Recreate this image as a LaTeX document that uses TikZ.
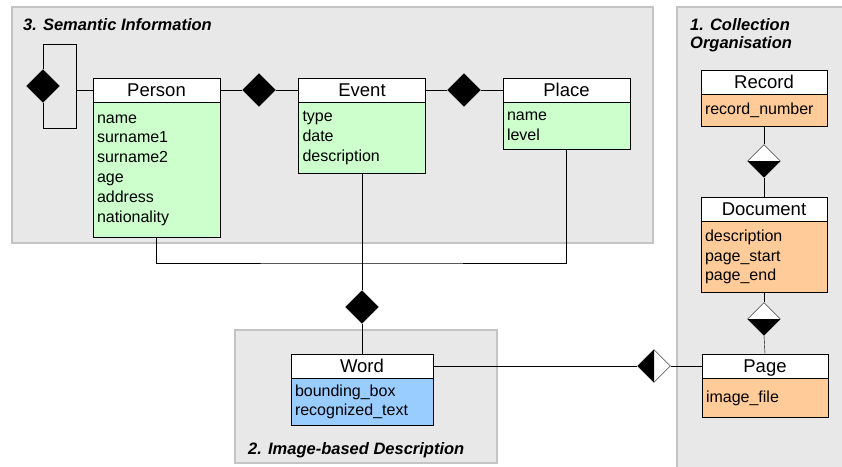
\documentclass[tikz,border=0pt]{standalone}
\usepackage{fontspec}
\setmainfont{Liberation Sans}
\usetikzlibrary{shapes.geometric}

\definecolor{semgreen}{HTML}{CCFFCC}
\definecolor{colorange}{HTML}{FFCC99}
\definecolor{imgblue}{HTML}{99CCFF}
\definecolor{panelfill}{HTML}{E8E8E8}
\definecolor{panelline}{HTML}{C4C4C4}

\newcommand\hdfont{\fontsize{18.5}{22}\selectfont}
\newcommand\atfont{\fontsize{16}{19.8}\selectfont}
\newcommand\ttlfont{\fontsize{16.5}{18}\selectfont\bfseries\itshape}

\begin{document}
\begin{tikzpicture}[x=1pt, y=-1pt,
  panel/.style={draw=panelline, fill=panelfill, line width=2.5},
  header/.style={draw, fill=white, minimum width=127, minimum height=24,
    inner sep=0, text height=13.3, text depth=0, font=\hdfont},
  attrs/.style={draw, fill=#1, anchor=north, minimum width=127, text width=119,
    inner xsep=4, inner ysep=0, align=left, font=\atfont},
  rel/.style={diamond, draw, fill=black, minimum width=33, minimum height=33, inner sep=0},
  halfdown/.style={rel, fill=white, path picture={
    \fill[black] (path picture bounding box.west) -- (path picture bounding box.east)
      -- (path picture bounding box.south) -- cycle;}},
  halfleft/.style={rel, fill=white, path picture={
    \fill[black] (path picture bounding box.north) -- (path picture bounding box.south)
      -- (path picture bounding box.west) -- cycle;}},
  title/.style={font=\ttlfont, inner sep=0}
]
\useasboundingbox (0,0) rectangle (842,466);

% Panels
\draw[panel] (12,7) rectangle (653,243);
\draw[panel] (677,7) rectangle (852,478);
\draw[panel] (235,330) rectangle (497,463);

\node[title, anchor=base west] (semtitle) at (23,30) {3. Semantic Information};
\node[title, anchor=north west, align=left] (coltitle) at (690,18) {1. Collection\\Organisation};
\node[title, anchor=base west] (imgtitle) at (248,454) {2. Image-based Description};

% Person
\node[header] (person) at (156.5,90) {Person};
\node[attrs=semgreen, minimum height=135] (person-b) at (person.south)
  {name\\surname1\\surname2\\age\\address\\nationality};

% Event
\node[header] (event) at (362,90) {Event};
\node[attrs=semgreen, minimum height=71] (event-b) at (event.south)
  {type\\date\\description};

% Place
\node[header] (place) at (566.5,90) {Place};
\node[attrs=semgreen, minimum height=47] (place-b) at (place.south)
  {name\\level};

% Record
\node[header, minimum width=126] (record) at (764,82) {Record};
\node[attrs=colorange, minimum width=126, text width=118, minimum height=32] (record-b)
  at (record.south) {record\_number};

% Document
\node[header, minimum width=126] (document) at (764,209) {Document};
\node[attrs=colorange, minimum width=126, text width=118, minimum height=71] (document-b)
  at (document.south) {description\\page\_start\\page\_end};

% Page
\node[header, minimum width=126] (page) at (765,366) {Page};
\node[attrs=colorange, minimum width=126, text width=118, minimum height=39] (page-b)
  at (page.south) {image\_file};

% Word
\node[header, minimum width=142] (word) at (362,366) {Word};
\node[attrs=imgblue, minimum width=142, text width=134, minimum height=47] (word-b)
  at (word.south) {bounding\_box\\recognized\_text};

% Relations
\node[rel] (selfrel) at (43,86) {};
\node[rel] (pe) at (259,90) {};
\node[rel] (ep) at (464,90) {};
\node[rel] (ew) at (362,307) {};
\node[halfdown] (rd) at (764,161) {};
\node[halfdown] (dp) at (764,319) {};
\node[halfleft] (wp) at (654,366) {};

% Person to itself
\draw (selfrel.north) |- ++(33,-25) |- (person.west);
\draw (selfrel.south) |- ++(33,25) -- ++(0,-37);

% Person - Event - Place
\draw (person.east) -- (pe.west);
\draw (pe.east) -- (event.west);
\draw (event.east) -- (ep.west);
\draw (ep.east) -- (place.west);

% Semantic classes down to Word
\coordinate (join) at (362,263);
\draw (person-b.south) |- (join) -| (place-b.south);
\draw (event-b.south) -- (ew.north);
\draw (ew.south) -- (word.north);

% Word to Page
\draw (word.east) -- (wp.west);
\draw (wp.east) -- (page.west);

% Record - Document - Page
\draw (record-b.south) -- (rd.north);
\draw (rd.south) -- (document.north);
\draw (document-b.south) -- (dp.north);
\draw (dp.south) -- (page.north);

\end{tikzpicture}
\end{document}
